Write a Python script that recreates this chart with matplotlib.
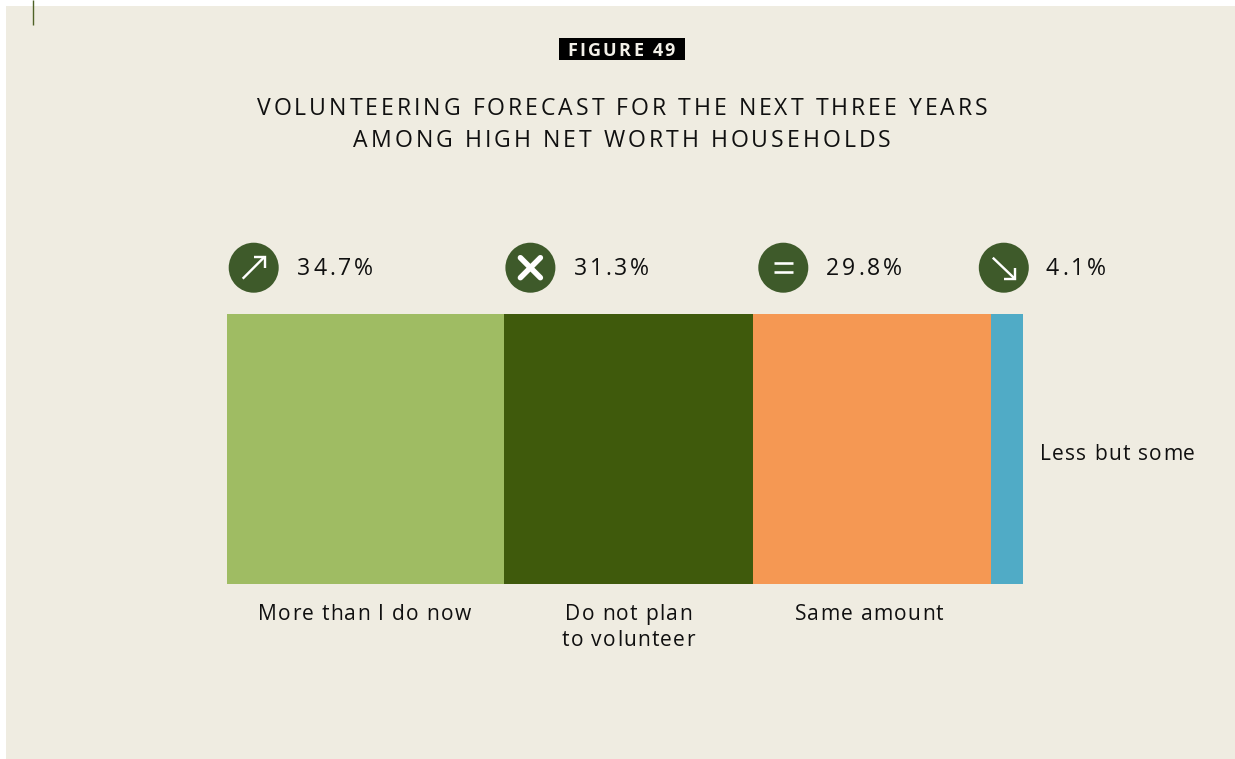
import matplotlib
matplotlib.use("Agg")
import matplotlib.pyplot as plt
from matplotlib.patches import Circle, Rectangle
from matplotlib.text import Text
from matplotlib.transforms import Bbox

plt.rcParams['font.family'] = ['Open Sans', 'DejaVu Sans']

# ---- data ----
categories = ["More than I do now", "Do not plan\nto volunteer", "Same amount", "Less but some"]
values = [34.7, 31.3, 29.8, 4.1]
bar_colors = ["#9FBC63", "#3F5A0C", "#F59853", "#50ABC6"]
figure_tag = "FIGURE 49"
title = "VOLUNTEERING FORECAST FOR THE NEXT THREE YEARS\nAMONG HIGH NET WORTH HOUSEHOLDS"

# ---- layout (pixels) ----
W, H = 1235, 759
BG = "#EFECE1"
ICON = "#3E5A2A"
INK = "#101010"
icon_x = [253.7, 530.4, 783.3, 1003.8]
pct_x = [297, 573.5, 826, 1046]
label_x = [364.5, 628.5, 869, 1040]
label_ha = ["center", "center", "center", "left"]
label_y = [620, 620, 620, 460]


class TrackedText(Text):
    """Text with letter spacing (px), which matplotlib lacks natively."""

    def __init__(self, *args, tracking=0.0, linegap=0.0, **kw):
        super().__init__(*args, **kw)
        self.tracking = tracking
        self.linegap = linegap

    def _w(self, renderer, s):
        return renderer.get_text_width_height_descent(s, self.get_fontproperties(), False)[0]

    def _offsets(self, renderer, line):
        base = self._w(renderer, "||")
        return [self._w(renderer, "|" + line[:i] + "|") - base + i * self.tracking
                for i in range(len(line))]

    def _line_width(self, renderer, line):
        base = self._w(renderer, "||")
        return self._w(renderer, "|" + line + "|") - base + (len(line) - 1) * self.tracking

    def draw(self, renderer):
        if not self.get_visible():
            return
        x0, y0 = self.get_transform().transform(self.get_position())
        _, ch = renderer.get_canvas_width_height()
        gc = renderer.new_gc()
        gc.set_foreground(self.get_color())
        for n, line in enumerate(self.get_text().split("\n")):
            w = self._line_width(renderer, line)
            xs = x0 - w / 2 if self.get_ha() == "center" else x0
            y = ch - y0 + n * self.linegap
            for c, off in zip(line, self._offsets(renderer, line)):
                if c != " ":
                    renderer.draw_text(gc, xs + off, y, c, self.get_fontproperties(), 0, ismath=False)
        gc.restore()

    def get_window_extent(self, renderer=None, dpi=None):
        renderer = renderer or self.get_figure().canvas.get_renderer()
        x0, y0 = self.get_transform().transform(self.get_position())
        lines = self.get_text().split("\n")
        w = max(self._line_width(renderer, l) for l in lines)
        h = self.get_fontsize() / 0.72
        xs = x0 - w / 2 if self.get_ha() == "center" else x0
        return Bbox.from_extents(xs, y0 - (len(lines) - 1) * self.linegap - 0.25 * h, xs + w, y0 + 0.8 * h)


def put(ax, x, y, s, size_px, tracking, linegap=0.0, ha="left", color=INK, weight="normal"):
    t = TrackedText(x, y, s, tracking=tracking, linegap=linegap, ha=ha, va="baseline",
                    color=color, fontsize=size_px * 0.72, fontweight=weight,
                    family=['Open Sans', 'DejaVu Sans'])
    ax.add_artist(t)
    return t


fig = plt.figure(figsize=(W / 100, H / 100), dpi=100, facecolor="white")

# overlay in pixel coordinates, y downward
ov = fig.add_axes([0, 0, 1, 1])
ov.set_xlim(0, W)
ov.set_ylim(H, 0)
ov.axis("off")
ov.add_patch(Rectangle((6, 6), W - 6, H - 6, fc=BG, ec="none", zorder=0))
ov.plot([33, 33], [0, 25], color="#4F6226", lw=1.0, zorder=1, solid_capstyle="butt")

# stacked bar
ax = fig.add_axes([227.3 / W, 1 - 584 / H, 796 / W, 270 / H])
ax.patch.set_alpha(0)
left = 0
for v, c in zip(values, bar_colors):
    ax.barh(0, v, left=left, height=1, color=c, linewidth=0)
    left += v
ax.set_xlim(0, sum(values))
ax.set_ylim(-0.5, 0.5)
ax.axis("off")

# heading
ov.add_patch(Rectangle((559, 38), 126, 22, fc="black", ec="none", zorder=2))
t = put(ov, 621, 56, figure_tag, 18, 2.3, ha="center", color="#F2F0E8", weight="bold")
t.set_zorder(3)
put(ov, 622, 115, title, 23, 2.98, linegap=32, ha="center")

# icons
lw_thin = 2.4 * 0.72
y_icon = 267.7
for cx in icon_x:
    ov.add_patch(Circle((cx, y_icon), 25, fc=ICON, ec="none", zorder=2))


def stroke(cx, xs, ys, lw, cap="butt"):
    ov.plot([cx + a for a in xs], [y_icon + b for b in ys], color="white", lw=lw,
            solid_capstyle=cap, solid_joinstyle="miter", zorder=3)


stroke(icon_x[0], [-11, 11], [11, -11], lw_thin)
stroke(icon_x[0], [0, 11, 11], [-11, -11, 0], lw_thin)
stroke(icon_x[1], [-10, 10], [-10, 10], 5.5 * 0.72, "round")
stroke(icon_x[1], [-10, 10], [10, -10], 5.5 * 0.72, "round")
stroke(icon_x[2], [-9.5, 9.5], [-4.5, -4.5], 2.6 * 0.72)
stroke(icon_x[2], [-9.5, 9.5], [4.5, 4.5], 2.6 * 0.72)
stroke(icon_x[3], [-11, 11], [-10, 11], lw_thin)
stroke(icon_x[3], [0, 11, 11], [11, 11, 0], lw_thin)

# value and category labels
for v, x in zip(values, pct_x):
    put(ov, x, 275, f"{v}%", 23, 2.9)
for c, x, y, ha in zip(categories, label_x, label_y, label_ha):
    put(ov, x, y, c, 21, 1.25, linegap=26, ha=ha)

fig.savefig("out.png", dpi=100, facecolor="white")
